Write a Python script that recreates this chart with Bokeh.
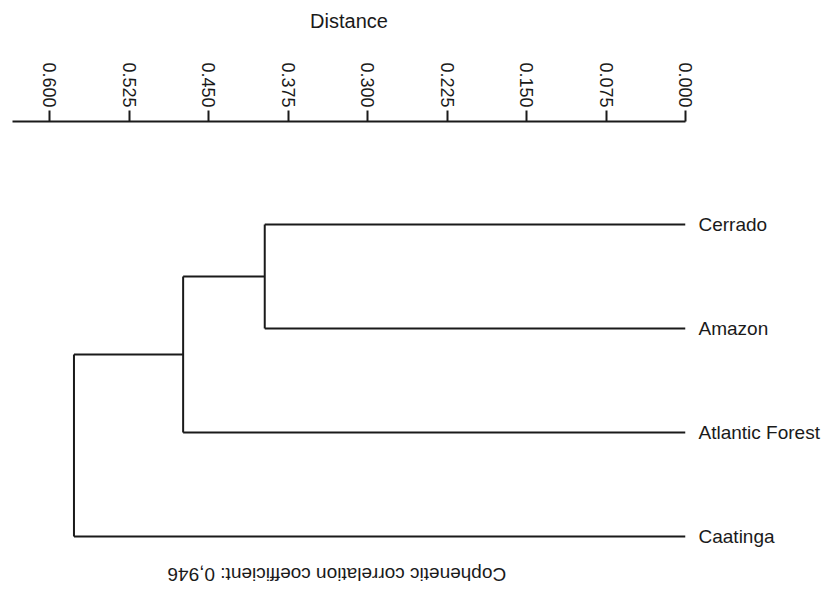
import math
from bokeh.plotting import figure
from bokeh.models import (Range1d, FixedTicker, PrintfTickFormatter, Label,
                          LinearAxis, ColumnDataSource)
from bokeh.embed import file_html
from bokeh.resources import INLINE

# ---- data ----
leaves = ["Cerrado", "Amazon", "Atlantic Forest", "Caatinga"]
leaf_pos = [4, 3, 2, 1]
# merges: children are leaf indices 0..3 or merged-node indices 4..
merge_left = [0, 4, 5]
merge_right = [1, 2, 3]
merge_height = [0.397, 0.474, 0.577]
tick_values = [0.0, 0.075, 0.15, 0.225, 0.3, 0.375, 0.45, 0.525, 0.6]
axis_title = "Distance"
note = "Cophenetic correlation coefficient: 0,946"

FONT = "Liberation Sans"
INK = "#1a1a1a"

# ---- build dendrogram geometry from the merge table ----
node_h = [0.0] * len(leaves)
node_y = list(leaf_pos)
x0, y0, x1, y1 = [], [], [], []
for l, r, h in zip(merge_left, merge_right, merge_height):
    for c in (l, r):  # horizontal links from the children
        x0.append(node_h[c]); y0.append(node_y[c]); x1.append(h); y1.append(node_y[c])
    x0.append(h); y0.append(node_y[l]); x1.append(h); y1.append(node_y[r])  # vertical link
    node_h.append(h)
    node_y.append((node_y[l] + node_y[r]) / 2)

seg_src = ColumnDataSource(dict(x0=x0, y0=y0, x1=x1, y1=y1))

p = figure(width=822, height=585,
           x_range=Range1d(0.635, 0.0), y_range=Range1d(0.529, 4.990),
           x_axis_location="above", y_axis_location=None,
           toolbar_location=None, output_backend="svg",
           min_border_left=12, min_border_right=136, min_border_top=121, min_border_bottom=0)
p.outline_line_color = None
p.xgrid.visible = False
p.ygrid.visible = False
p.background_fill_color = "white"
p.border_fill_color = "white"

p.segment(x0="x0", y0="y0", x1="x1", y1="y1", source=seg_src,
          line_color=INK, line_width=2)

# leaf names as a right-hand axis at the leaf positions
leaf_axis = LinearAxis(ticker=FixedTicker(ticks=leaf_pos),
                       major_label_overrides={pos: name for pos, name in zip(leaf_pos, leaves)},
                       axis_line_color=None, major_tick_line_color=None,
                       minor_tick_line_color=None, major_tick_in=0, major_tick_out=0,
                       minor_tick_in=0, minor_tick_out=0,
                       major_label_standoff=13,
                       major_label_text_font=FONT, major_label_text_font_size="19px",
                       major_label_text_color=INK)
p.add_layout(leaf_axis, "right")

ax = p.xaxis[0]
ax.ticker = FixedTicker(ticks=tick_values)
ax.formatter = PrintfTickFormatter(format="%.3f")
ax.major_label_orientation = -math.pi / 2
ax.major_tick_in = 0
ax.major_tick_out = 11
ax.minor_tick_in = 0
ax.minor_tick_out = 0
ax.axis_line_width = 2
ax.axis_line_color = INK
ax.major_tick_line_width = 2
ax.major_tick_line_color = INK
ax.major_label_standoff = 3
ax.major_label_text_font = FONT
ax.major_label_text_font_size = "18px"
ax.major_label_text_color = INK
ax.axis_label = axis_title
ax.axis_label_standoff = 27
ax.axis_label_text_font = FONT
ax.axis_label_text_font_style = "normal"
ax.axis_label_text_font_size = "20px"
ax.axis_label_text_color = INK

p.add_layout(Label(x=0.329, y=0.63, text=note, angle=math.pi,
                   text_align="center", text_baseline="middle",
                   text_font=FONT, text_font_size="19px", text_color=INK))

open("out.html", "w").write(file_html(p, INLINE))
